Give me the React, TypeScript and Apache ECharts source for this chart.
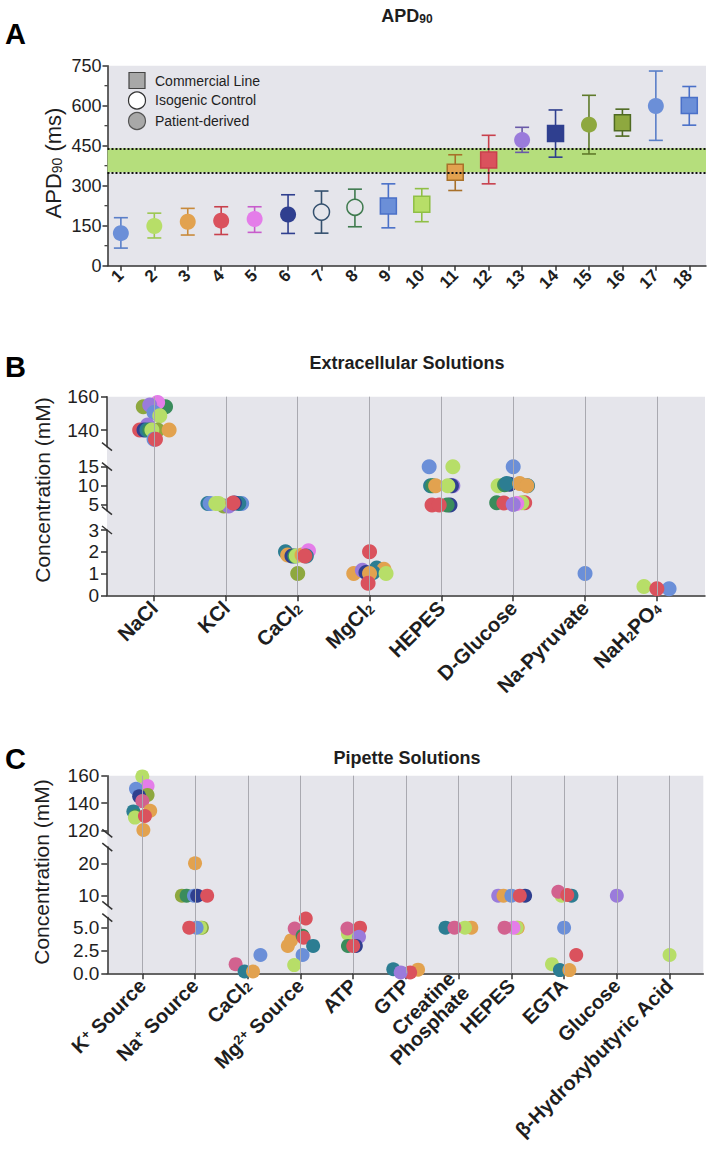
import React, { useEffect, useRef } from 'react';
import * as echarts from 'echarts';

const FONT = '"Liberation Sans", Arial, Helvetica, sans-serif';
const INK = '#1e1e1e';
const AXIS = '#333333';
const PLOT_BG = '#e5e5eb';
const CAT_LINE = '#a9a9b0';

const palette: Record<string, string> = {
  blue: '#6b8fd8',
  lime: '#b7de68',
  orange: '#e2a24f',
  red: '#da525d',
  pink: '#e47de9',
  navy: '#2f3f8f',
  purple: '#9a7bdb',
  olive: '#8ea83f',
  dgreen: '#3a8c5c',
  teal: '#2c7d92',
  rose: '#d2628f',
};

// ---------------- Panel A : APD90 ----------------
const apdLines = [1, 2, 3, 4, 5, 6, 7, 8, 9, 10, 11, 12, 13, 14, 15, 16, 17, 18];
const apdMean = [122, 149, 165, 169, 175, 192, 201, 219, 224, 230, 350, 396, 471, 496, 529, 536, 599, 601];
const apdLow = [66, 104, 115, 117, 125, 121, 122, 146, 142, 165, 282, 307, 425, 407, 419, 486, 470, 527];
const apdHigh = [180, 197, 215, 221, 221, 266, 280, 287, 307, 289, 416, 489, 519, 584, 639, 587, 730, 672];
// C = commercial line, I = isogenic control, P = patient-derived
const apdType = ['P', 'P', 'P', 'P', 'P', 'P', 'I', 'I', 'C', 'C', 'C', 'C', 'P', 'C', 'P', 'C', 'P', 'C'];
const apdFill = ['#6b8fd8', '#b7de68', '#e2a24f', '#da525d', '#e47de9', '#2f3f8f', '#34506e', '#3f7a4e', '#6b8fd8', '#b7de68', '#e2a24f', '#da525d', '#9a7bdb', '#2f3f8f', '#8ea83f', '#8ea83f', '#6b8fd8', '#6b8fd8'];
const apdStroke = ['#5a7fc8', '#9cc850', '#c88a3a', '#c8404c', '#c85ccc', '#2f3f8f', '#34506e', '#3f7a4e', '#4a70c8', '#8fbf45', '#a8702a', '#c8404c', '#6a5aa8', '#2f3f8f', '#5f7a2a', '#4f6a22', '#5a7fc8', '#4a70c8'];
const apdBand = [350, 440];
const apdTicks = [0, 150, 300, 450, 600, 750];
const apdMinorTicks = [75, 225, 375, 525, 675];
const apdLegend = ['Commercial Line', 'Isogenic Control', 'Patient-derived'];

// ---------------- Panel B : Extracellular solutions ----------------
const extraCats = [1, 2, 3, 4, 5, 6, 7, 8];
const extraLabels = ['NaCl', 'KCl', 'CaCl{sub|2}', 'MgCl{sub|2}', 'HEPES', 'D-Glucose', 'Na-Pyruvate', 'NaH{sub|2}PO{sub|4}'];
const extraRanges = [[130, 160], [3.5, 15], [0, 3]];
const extraTicks = [[140, 160], [5, 10, 15], [0, 1, 2, 3]];
// [category, jitter, concentration (mM), colour]
const extraDots: [number, number, number, string][] = [
  [1, -0.15, 154, 'olive'], [1, 0.16, 154, 'dgreen'], [1, 0.05, 156.5, 'pink'], [1, -0.06, 155, 'purple'],
  [1, 0.0, 150.5, 'blue'], [1, 0.08, 148.5, 'lime'], [1, -0.09, 143, 'purple'], [1, -0.2, 140, 'red'],
  [1, -0.14, 140, 'navy'], [1, -0.1, 140, 'teal'], [1, -0.06, 140, 'dgreen'], [1, 0.05, 140, 'olive'],
  [1, -0.03, 140, 'lime'], [1, 0.21, 140, 'orange'], [1, 0.0, 134.5, 'blue'], [1, 0.02, 134.5, 'red'],
  [2, -0.25, 5.4, 'teal'], [2, -0.22, 5.4, 'blue'], [2, -0.03, 4.7, 'olive'], [2, 0.04, 4.7, 'purple'],
  [2, 0.22, 5.4, 'blue'], [2, 0.18, 5.4, 'teal'], [2, 0.12, 5.5, 'navy'], [2, -0.14, 5.4, 'lime'],
  [2, -0.1, 5.4, 'lime'], [2, 0.1, 5.5, 'red'],
  [3, -0.17, 2.0, 'teal'], [3, -0.14, 1.85, 'orange'], [3, -0.08, 1.8, 'navy'], [3, -0.04, 1.8, 'dgreen'],
  [3, -0.02, 1.8, 'lime'], [3, 0.06, 1.85, 'orange'], [3, 0.15, 2.05, 'pink'], [3, 0.12, 1.8, 'teal'],
  [3, 0.1, 1.8, 'red'], [3, 0.0, 1.0, 'olive'],
  [4, 0.0, 2.0, 'red'], [4, -0.22, 1.0, 'orange'], [4, -0.1, 1.15, 'purple'], [4, 0.1, 1.25, 'teal'],
  [4, 0.2, 1.2, 'orange'], [4, -0.05, 1.05, 'navy'], [4, 0.05, 1.05, 'teal'], [4, 0.0, 1.0, 'orange'],
  [4, 0.23, 1.0, 'lime'], [4, -0.02, 0.55, 'red'],
  [5, -0.17, 15, 'blue'], [5, 0.16, 15, 'lime'], [5, -0.15, 10, 'teal'], [5, -0.12, 10, 'dgreen'],
  [5, -0.08, 10, 'orange'], [5, 0.16, 10, 'purple'], [5, 0.14, 10, 'navy'], [5, 0.09, 10, 'lime'],
  [5, 0.12, 5, 'navy'], [5, 0.08, 5, 'dgreen'], [5, -0.13, 5, 'red'], [5, -0.03, 5, 'red'],
  [6, 0.0, 15, 'blue'], [6, -0.21, 10, 'lime'], [6, -0.05, 10.4, 'navy'], [6, -0.12, 10.3, 'dgreen'],
  [6, -0.09, 10.6, 'teal'], [6, 0.09, 10.6, 'orange'], [6, 0.2, 10, 'teal'], [6, 0.19, 10, 'orange'],
  [6, -0.23, 5.6, 'dgreen'], [6, -0.13, 5.5, 'red'], [6, 0.16, 5.6, 'red'], [6, 0.12, 5.6, 'lime'],
  [6, 0.05, 5.4, 'pink'], [6, 0.0, 5.1, 'purple'],
  [7, 0.0, 1.0, 'blue'],
  [8, -0.18, 0.4, 'lime'], [8, 0.17, 0.3, 'blue'], [8, 0.0, 0.3, 'red'],
];

// ---------------- Panel C : Pipette solutions ----------------
const pipetteCats = [1, 2, 3, 4, 5, 6, 7, 8, 9, 10, 11];
const pipetteLabels = ['K{sup|+} Source', 'Na{sup|+} Source', 'CaCl{sub|2}', 'Mg{sup|2+} Source', 'ATP', 'GTP', 'Creatine\nPhosphate', 'HEPES', 'EGTA', 'Glucose', 'β-Hydroxybutyric Acid'];
const pipetteRanges = [[118, 160], [7, 25], [0, 6.1]];
const pipetteTicks = [[120, 140, 160], [10, 20], [0, 2.5, 5]];
const pipetteDots: [number, number, number, string][] = [
  [1, 0.0, 159.5, 'lime'], [1, 0.1, 152.5, 'pink'], [1, -0.12, 150.5, 'blue'], [1, 0.1, 146, 'olive'],
  [1, -0.06, 145, 'navy'], [1, 0.0, 141.5, 'rose'], [1, 0.15, 134.5, 'orange'], [1, -0.17, 134, 'teal'],
  [1, -0.12, 130.7, 'dgreen'], [1, -0.14, 129.5, 'lime'], [1, 0.05, 130.7, 'red'], [1, 0.02, 120.5, 'orange'],
  [2, 0.0, 20, 'orange'], [2, -0.25, 10, 'olive'], [2, -0.16, 10, 'dgreen'], [2, -0.02, 10, 'blue'],
  [2, 0.04, 10, 'navy'], [2, 0.23, 10, 'red'], [2, 0.13, 5, 'olive'], [2, 0.1, 5, 'lime'],
  [2, 0.03, 5, 'blue'], [2, -0.11, 5, 'red'],
  [3, -0.23, 1.0, 'rose'], [3, -0.06, 0.2, 'teal'], [3, 0.1, 0.2, 'orange'], [3, 0.24, 2.0, 'blue'],
  [4, -0.24, 3.0, 'orange'], [4, -0.18, 3.6, 'orange'], [4, -0.11, 4.9, 'rose'], [4, 0.1, 6.0, 'red'],
  [4, 0.04, 4.1, 'dgreen'], [4, 0.06, 3.9, 'red'], [4, 0.24, 3.0, 'teal'], [4, 0.04, 2.0, 'blue'],
  [4, -0.12, 0.9, 'lime'],
  [5, -0.1, 4.3, 'lime'], [5, -0.11, 4.9, 'rose'], [5, 0.13, 5.0, 'red'], [5, 0.11, 4.0, 'purple'],
  [5, -0.1, 3.0, 'dgreen'], [5, 0.05, 3.0, 'navy'], [5, 0.0, 3.0, 'red'],
  [6, -0.24, 0.45, 'teal'], [6, 0.23, 0.4, 'orange'], [6, 0.08, 0.1, 'red'], [6, -0.1, 0.1, 'purple'],
  [7, -0.25, 5, 'teal'], [7, 0.24, 5, 'orange'], [7, 0.12, 5, 'lime'], [7, -0.08, 5, 'rose'],
  [8, -0.25, 10, 'purple'], [8, -0.15, 10, 'orange'], [8, 0.0, 10, 'blue'], [8, 0.26, 10, 'navy'],
  [8, 0.16, 10, 'red'], [8, 0.12, 5, 'orange'], [8, 0.1, 5, 'lime'], [8, 0.04, 5, 'pink'], [8, -0.13, 5, 'rose'],
  [9, -0.05, 10, 'lime'], [9, 0.14, 10, 'teal'], [9, -0.11, 11.2, 'rose'], [9, 0.06, 10.2, 'red'],
  [9, 0.0, 5, 'blue'], [9, 0.23, 2.0, 'red'], [9, -0.23, 1.0, 'lime'], [9, -0.08, 0.35, 'teal'],
  [9, 0.1, 0.35, 'orange'],
  [10, 0.0, 10, 'purple'],
  [11, 0.0, 2.0, 'lime'],
];

// ---------------- layout ----------------
const LAYOUT_A = { left: 107.5, top: 65.7, width: 598.5, height: 200, xMin: 0.6, xMax: 18.5 };
const LAYOUT_B = {
  left: 107, width: 598, top: 396.7, height: 198.6, xMin: 0.345, xMax: 8.67,
  segs: [{ top: 396.7, height: 50 }, { top: 466.7, height: 44 }, { top: 530, height: 65.3 }],
  dotSize: 15, labelSize: 20.5, supSize: 13,
};
const LAYOUT_C = {
  left: 107.3, width: 596, top: 775.7, height: 197.6, xMin: 0.336, xMax: 11.64,
  segs: [{ top: 775.7, height: 57.7 }, { top: 847.1, height: 58.3 }, { top: 917.6, height: 55.7 }],
  dotSize: 14, labelSize: 20, supSize: 13,
};

const axisLineStyle = { color: AXIS, width: 1.5 };

function buildOption() {
  const grids: any[] = [];
  const xAxes: any[] = [];
  const yAxes: any[] = [];
  const series: any[] = [];
  const graphics: any[] = [];

  // ----- Panel A -----
  grids.push({ left: LAYOUT_A.left, top: LAYOUT_A.top, width: LAYOUT_A.width, height: LAYOUT_A.height, show: true, backgroundColor: PLOT_BG, borderWidth: 0 });
  xAxes.push({
    type: 'value', gridIndex: 0, min: LAYOUT_A.xMin, max: LAYOUT_A.xMax,
    axisLine: { show: true, onZero: false, lineStyle: axisLineStyle },
    axisTick: { show: true, customValues: apdLines, length: 5, lineStyle: axisLineStyle },
    axisLabel: { customValues: apdLines, rotate: 45, fontSize: 17, fontWeight: 'bold', color: INK, margin: 7, fontFamily: FONT },
    splitLine: { show: false },
  });
  yAxes.push({
    type: 'value', gridIndex: 0, min: 0, max: 750,
    axisLine: { show: true, lineStyle: axisLineStyle },
    axisTick: { show: true, customValues: apdTicks, length: 5, lineStyle: axisLineStyle },
    axisLabel: { customValues: apdTicks, fontSize: 18, color: INK, margin: 6, fontFamily: FONT },
    splitLine: { show: false },
  });
  series.push({
    type: 'scatter', xAxisIndex: 0, yAxisIndex: 0, data: [[1, -1000]], symbolSize: 0, silent: true, z: 1,
    markArea: { silent: true, itemStyle: { color: '#b5de7c', opacity: 1 }, data: [[{ yAxis: apdBand[0] }, { yAxis: apdBand[1] }]] },
    markLine: {
      silent: true, symbol: ['none', 'none'], label: { show: false },
      lineStyle: { type: [2, 2], color: '#111', width: 2, opacity: 1 },
      data: [{ yAxis: apdBand[0] }, { yAxis: apdBand[1] }],
    },
  });
  series.push({
    type: 'custom', xAxisIndex: 0, yAxisIndex: 0, z: 2,
    data: apdLines.map((x, i) => [x, apdLow[i], apdHigh[i]]),
    encode: { x: 0, y: [1, 2] },
    renderItem: (params: any, api: any) => {
      const x = api.value(0);
      const lo = api.coord([x, api.value(1)]);
      const hi = api.coord([x, api.value(2)]);
      const c = apdStroke[params.dataIndex];
      const cap = 7;
      const st = { stroke: c, lineWidth: 1.6 };
      return {
        type: 'group',
        children: [
          { type: 'line', shape: { x1: lo[0], y1: lo[1], x2: hi[0], y2: hi[1] }, style: st },
          { type: 'line', shape: { x1: lo[0] - cap, y1: lo[1], x2: lo[0] + cap, y2: lo[1] }, style: st },
          { type: 'line', shape: { x1: hi[0] - cap, y1: hi[1], x2: hi[0] + cap, y2: hi[1] }, style: st },
        ],
      };
    },
  });
  series.push({
    type: 'scatter', xAxisIndex: 0, yAxisIndex: 0, z: 3,
    data: apdLines.map((x, i) => {
      const t = apdType[i];
      return {
        value: [x, apdMean[i]],
        symbol: t === 'C' ? 'rect' : 'circle',
        symbolSize: 16,
        itemStyle: {
          color: t === 'I' ? PLOT_BG : apdFill[i],
          borderColor: t === 'P' ? apdFill[i] : apdStroke[i],
          borderWidth: t === 'P' ? 0 : 1.5,
          opacity: 1,
        },
      };
    }),
  });

  // minor y ticks for panel A
  apdMinorTicks.forEach((v) => {
    const y = LAYOUT_A.top + LAYOUT_A.height * (1 - v / 750);
    graphics.push({ type: 'line', shape: { x1: LAYOUT_A.left - 3, y1: y, x2: LAYOUT_A.left, y2: y }, style: { stroke: AXIS, lineWidth: 1.2 }, silent: true });
  });

  // ----- dot panels -----
  function addDotPanel(L: any, cats: number[], labels: string[], ranges: number[][], ticks: number[][], dots: [number, number, number, string][], tickFmt: (v: number) => string) {
    const rich = {
      sub: { fontSize: L.supSize, fontWeight: 'bold', fontFamily: FONT, color: INK, verticalAlign: 'bottom' },
      sup: { fontSize: L.supSize, fontWeight: 'bold', fontFamily: FONT, color: INK, verticalAlign: 'top' },
    };
    const bg = grids.length;
    grids.push({ left: L.left, top: L.top, width: L.width, height: L.height, show: true, backgroundColor: PLOT_BG, borderWidth: 0 });
    xAxes.push({
      type: 'value', gridIndex: bg, min: L.xMin, max: L.xMax,
      axisLine: { show: true, onZero: false, lineStyle: axisLineStyle },
      axisTick: { show: true, customValues: cats, length: 6, lineStyle: axisLineStyle },
      axisLabel: {
        customValues: cats, rotate: 45, margin: 9,
        formatter: (v: number) => labels[Math.round(v) - 1],
        fontSize: L.labelSize, fontWeight: 'bold', color: INK, fontFamily: FONT, rich,
      },
      splitLine: { show: false },
    });
    yAxes.push({ type: 'value', gridIndex: bg, min: 0, max: 1, show: false });
    series.push({
      type: 'scatter', xAxisIndex: bg, yAxisIndex: bg, data: [[L.xMin - 5, -5]], symbolSize: 0, silent: true, z: 1,
      markLine: {
        silent: true, symbol: ['none', 'none'], label: { show: false },
        lineStyle: { type: 'solid', color: CAT_LINE, width: 1, opacity: 1 },
        data: cats.map((c) => ({ xAxis: c })),
      },
    });
    L.segs.forEach((seg: any, k: number) => {
      const gi = grids.length;
      const [lo, hi] = ranges[k];
      grids.push({ left: L.left, top: seg.top, width: L.width, height: seg.height, show: false });
      xAxes.push({ type: 'value', gridIndex: gi, min: L.xMin, max: L.xMax, show: false });
      yAxes.push({
        type: 'value', gridIndex: gi, min: lo, max: hi,
        axisLine: { show: true, onZero: false, lineStyle: axisLineStyle },
        axisTick: { show: true, customValues: ticks[k], length: 6, lineStyle: axisLineStyle },
        axisLabel: { customValues: ticks[k], formatter: tickFmt, fontSize: 19, color: INK, margin: 8, fontFamily: FONT },
        splitLine: { show: false },
      });
      series.push({
        type: 'scatter', xAxisIndex: gi, yAxisIndex: gi, z: 3, symbolSize: L.dotSize,
        itemStyle: { opacity: 1 },
        data: dots.filter((d) => d[2] >= lo && d[2] <= hi).map((d) => ({ value: [d[0] + d[1], d[2]], itemStyle: { color: palette[d[3]], opacity: 1 } })),
      });
      const marks: number[] = [];
      if (k > 0) marks.push(seg.top);
      if (k < L.segs.length - 1) marks.push(seg.top + seg.height);
      marks.forEach((y) => {
        graphics.push({ type: 'line', silent: true, shape: { x1: L.left - 5, y1: y - 4, x2: L.left + 5, y2: y + 4 }, style: { stroke: AXIS, lineWidth: 1.5 } });
      });
    });
  }
  addDotPanel(LAYOUT_B, extraCats, extraLabels, extraRanges, extraTicks, extraDots, (v) => String(v));
  addDotPanel(LAYOUT_C, pipetteCats, pipetteLabels, pipetteRanges, pipetteTicks, pipetteDots, (v) => (v >= 10 ? String(v) : v.toFixed(1)));

  // ----- text decorations -----
  const txt = (x: number, y: number, text: string, extra: any = {}, rot = 0) => ({
    type: 'text', x, y, rotation: rot, silent: true,
    style: {
      text, fontFamily: FONT, fill: INK, fontSize: 14,
      align: 'center', verticalAlign: 'middle', textAlign: 'center', textVerticalAlign: 'middle',
      ...extra,
    },
  });
  graphics.push(txt(5, 34, 'A', { fontSize: 29, fontWeight: 'bold', align: 'left', textAlign: 'left', fill: '#000' }));
  graphics.push(txt(5, 367, 'B', { fontSize: 29, fontWeight: 'bold', align: 'left', textAlign: 'left', fill: '#000' }));
  graphics.push(txt(5, 759, 'C', { fontSize: 29, fontWeight: 'bold', align: 'left', textAlign: 'left', fill: '#000' }));
  graphics.push(txt(407, 16, '{b|APD}{s|90}', {
    rich: {
      b: { fontSize: 18, fontWeight: 'bold', fontFamily: FONT, fill: INK },
      s: { fontSize: 12, fontWeight: 'bold', fontFamily: FONT, fill: INK, verticalAlign: 'bottom' },
    },
  }));
  graphics.push(txt(407, 363, 'Extracellular Solutions', { fontSize: 18, fontWeight: 'bold' }));
  graphics.push(txt(407, 758, 'Pipette Solutions', { fontSize: 18, fontWeight: 'bold' }));
  graphics.push(txt(53, 163, '{a|APD}{s|90}{a| (ms)}', {
    rich: {
      a: { fontSize: 22, fontFamily: FONT, fill: INK },
      s: { fontSize: 14, fontFamily: FONT, fill: INK, verticalAlign: 'bottom' },
    },
  }, Math.PI / 2));
  graphics.push(txt(42, 490, 'Concentration (mM)', { fontSize: 21 }, Math.PI / 2));
  graphics.push(txt(41, 872, 'Concentration (mM)', { fontSize: 21 }, Math.PI / 2));

  // legend (panel A)
  graphics.push({ type: 'rect', silent: true, shape: { x: 129, y: 72.5, width: 16, height: 16 }, style: { fill: '#a8a8a8', stroke: '#444', lineWidth: 1.2 } });
  graphics.push({ type: 'circle', silent: true, shape: { cx: 137, cy: 100.5, r: 8.5 }, style: { fill: '#ffffff', stroke: '#333', lineWidth: 1.2 } });
  graphics.push({ type: 'circle', silent: true, shape: { cx: 137, cy: 121, r: 8.5 }, style: { fill: '#a8a8a8', stroke: '#555', lineWidth: 1.2 } });
  apdLegend.forEach((t, i) => {
    graphics.push(txt(155, [80.7, 100.3, 120.7][i], t, { fontSize: 14, align: 'left', textAlign: 'left' }));
  });

  return {
    animation: false,
    backgroundColor: '#ffffff',
    textStyle: { fontFamily: FONT },
    grid: grids,
    xAxis: xAxes,
    yAxis: yAxes,
    series,
    graphic: graphics,
  };
}

export default function App() {
  const ref = useRef<HTMLDivElement>(null);
  useEffect(() => {
    if (!ref.current) return;
    const chart = echarts.init(ref.current, undefined, { renderer: 'svg' });
    chart.setOption(buildOption() as any);
    return () => chart.dispose();
  }, []);
  return <div ref={ref} style={{ position: 'absolute', left: 0, top: 0, width: 709, height: 1157, background: '#fff' }} />;
}
